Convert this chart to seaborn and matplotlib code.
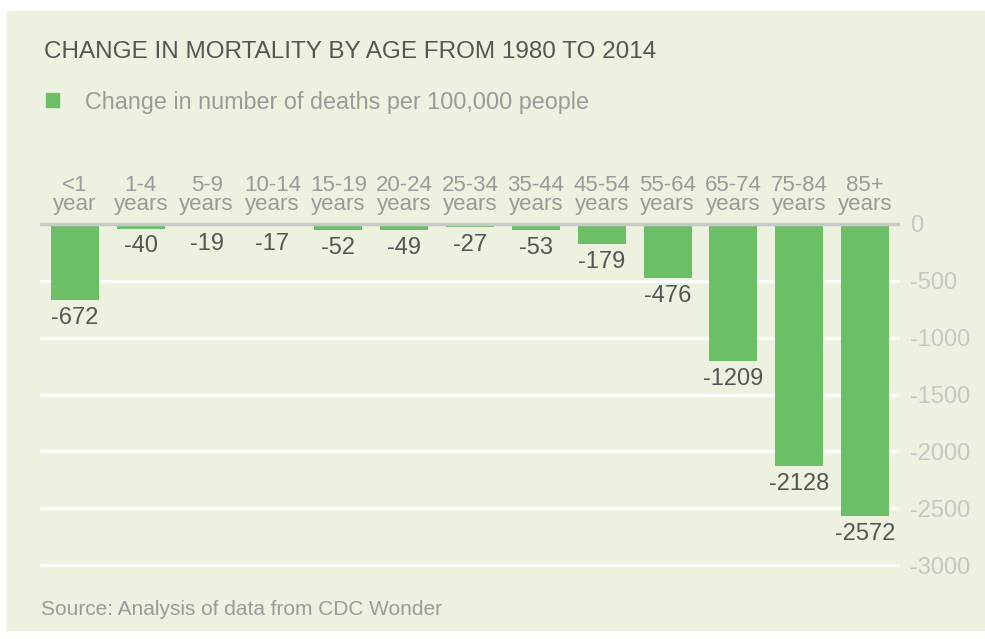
import matplotlib
matplotlib.use("Agg")
import matplotlib.pyplot as plt
import seaborn as sns
from matplotlib.patches import Rectangle, Patch

# data
age_groups = ["<1\nyear", "1-4\nyears", "5-9\nyears", "10-14\nyears", "15-19\nyears",
              "20-24\nyears", "25-34\nyears", "35-44\nyears", "45-54\nyears",
              "55-64\nyears", "65-74\nyears", "75-84\nyears", "85+\nyears"]
change = [-672, -40, -19, -17, -52, -49, -27, -53, -179, -476, -1209, -2128, -2572]
y_ticks = [0, -500, -1000, -1500, -2000, -2500, -3000]

title = "CHANGE IN MORTALITY BY AGE FROM 1980 TO 2014"
legend_label = "Change in number of deaths per 100,000 people"
source = "Source: Analysis of data from CDC Wonder"

bar_color = "#6dbf67"
panel_color = "#ecf2df"

sns.set_style("white")
plt.rcParams["font.family"] = ["Liberation Sans", "DejaVu Sans"]
plt.rcParams["axes.unicode_minus"] = False

W, H = 985, 639
fig = plt.figure(figsize=(W / 100, H / 100), dpi=100)
fig.patch.set_facecolor("white")

# light green panel
fig.patches.append(Rectangle((7 / W, (H - 630) / H), 1, (630 - 11) / H,
                             transform=fig.transFigure, color=panel_color, zorder=-10))

# axes placed so that 0 sits at y=224 px and -3000 at y=565 px
ymin, ymax = -3020, 20
px_per = (565 - 224) / 3000
top_px = 224 - ymax * px_per
bot_px = 565 + (-3000 - ymin) * px_per
ax = fig.add_axes([40 / W, (H - bot_px) / H, 860 / W, (bot_px - top_px) / H])
ax.set_facecolor("none")

sns.barplot(x=age_groups, y=change, color=bar_color, saturation=1, width=0.73,
            linewidth=0, edgecolor="none", ax=ax)

ax.set_xlim(-0.53, len(change) - 0.47)
ax.set_ylim(ymin, ymax)
ax.set_xlabel("")
ax.set_ylabel("")
for s in ax.spines.values():
    s.set_visible(False)

ax.set_yticks(y_ticks)
ax.set_yticklabels([str(v) for v in y_ticks])
ax.yaxis.tick_right()
ax.tick_params(axis="y", length=0, pad=7, labelsize=17, labelcolor="#c6c6c6")
ax.yaxis.grid(True, color="white", lw=2)
ax.set_axisbelow(True)
ax.axhline(0, color="#c8c8c8", lw=2.5, zorder=3)

ax.xaxis.tick_top()
ax.tick_params(axis="x", length=0, pad=5, labelsize=16, labelcolor="#9a9a9a")
for lab in ax.get_xticklabels():
    lab.set_linespacing(0.86)

ax.bar_label(ax.containers[0], labels=[str(v) for v in change], padding=5,
             fontsize=17, color="#555555")

fig.text(44 / W, (H - 58) / H, title, fontsize=17.5, color="#555555", va="baseline")

fig.legend(handles=[Patch(color=bar_color, label=legend_label)], loc="center left",
           bbox_to_anchor=(46 / W, (H - 102) / H), frameon=False, borderpad=0,
           borderaxespad=0, handlelength=0.56, handleheight=0.56, handletextpad=1.1,
           prop={"size": 16.8}, labelcolor="#9a9a9a")

fig.text(41 / W, (H - 615) / H, source, fontsize=15, color="#9a9a9a", va="baseline")

fig.savefig("out.png", dpi=100)
